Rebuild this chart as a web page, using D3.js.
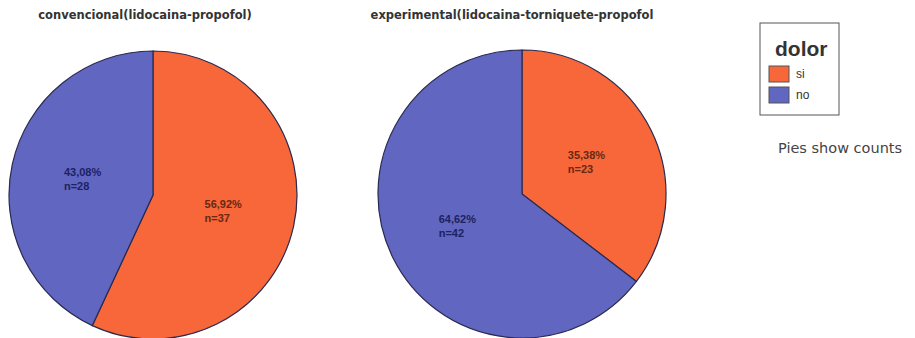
<!DOCTYPE html>
<html>
<head>
<meta charset="utf-8">
<script src="https://cdn.jsdelivr.net/npm/d3@7"></script>
<style>
  html, body { margin: 0; padding: 0; background: #fff; }
  svg { display: block; font-family: "Liberation Sans", Arial, sans-serif; }
</style>
</head>
<body>
<svg id="chart" width="915" height="338"></svg>
<script>
// ---- data ----
const groups = ["convencional(lidocaina-propofol)", "experimental(lidocaina-torniquete-propofol"];
const categories = ["si", "no"];
const siCounts = [37, 23];
const noCounts = [28, 42];
const legendTitle = "dolor";
const footnote = "Pies show counts";

// ---- layout ----
const svg = d3.select("#chart");
const centers = [[153, 195], [522, 194]];
const titleX = [145, 512];
const radius = 144;
const colors = d3.scaleOrdinal().domain(categories).range(["#f7673a", "#6166c0"]);
const labelColors = d3.scaleOrdinal().domain(categories).range(["#6a2810", "#1d2262"]);

const pie = d3.pie().sort(null).value(d => d.value);
const arc = d3.arc().innerRadius(0).outerRadius(radius);

const fmt = v => (v * 100).toFixed(2).replace(".", ",") + "%";

groups.forEach((g, i) => {
  const data = [
    { key: "si", value: siCounts[i] },
    { key: "no", value: noCounts[i] }
  ];
  const total = d3.sum(data, d => d.value);
  const [cx, cy] = centers[i];

  svg.append("text")
    .attr("x", titleX[i]).attr("y", 19)
    .attr("text-anchor", "middle")
    .attr("font-family", "'DejaVu Sans', sans-serif")
    .attr("font-size", 11.5).attr("font-weight", "bold")
    .attr("fill", "#333")
    .text(g);

  const gp = svg.append("g").attr("transform", `translate(${cx},${cy})`);
  const arcs = pie(data);
  gp.selectAll("path").data(arcs).join("path")
    .attr("d", arc)
    .attr("fill", d => colors(d.data.key))
    .attr("stroke", "#2a2a50")
    .attr("stroke-width", 1.2);

  arcs.forEach(a => {
    const mid = (a.startAngle + a.endAngle) / 2;
    const r = radius * 0.5;
    const px = Math.sin(mid) * r;
    const py = -Math.cos(mid) * r;
    const t = gp.append("text")
      .attr("font-size", 11).attr("font-weight", "bold")
      .attr("fill", labelColors(a.data.key));
    t.append("tspan").attr("x", 0).attr("dy", 0).text(fmt(a.data.value / total));
    t.append("tspan").attr("x", 0).attr("dy", 14).text("n=" + a.data.value);
    const bb = t.node().getBBox();
    t.attr("transform", `translate(${px - bb.width / 2},${py - bb.y - bb.height / 2})`);
  });
});

// ---- legend ----
const lg = svg.append("g");
lg.append("rect").attr("x", 760).attr("y", 23).attr("width", 79).attr("height", 92)
  .attr("fill", "#fff").attr("stroke", "#555").attr("stroke-width", 1);
lg.append("text").attr("x", 775).attr("y", 56)
  .attr("font-size", 21).attr("font-weight", "bold").attr("fill", "#333")
  .text(legendTitle);
categories.forEach((c, k) => {
  const y = 66 + k * 21;
  lg.append("rect").attr("x", 769).attr("y", y).attr("width", 20).attr("height", 16)
    .attr("fill", colors(c)).attr("stroke", "#555").attr("stroke-width", 1);
  lg.append("text").attr("x", 796).attr("y", y + 12)
    .attr("font-size", 12).attr("fill", "#333").text(c);
});
svg.append("text").attr("x", 778).attr("y", 153)
  .attr("font-family", "'DejaVu Sans', sans-serif")
  .attr("font-size", 14.5).attr("fill", "#444").text(footnote);
</script>
</body>
</html>
